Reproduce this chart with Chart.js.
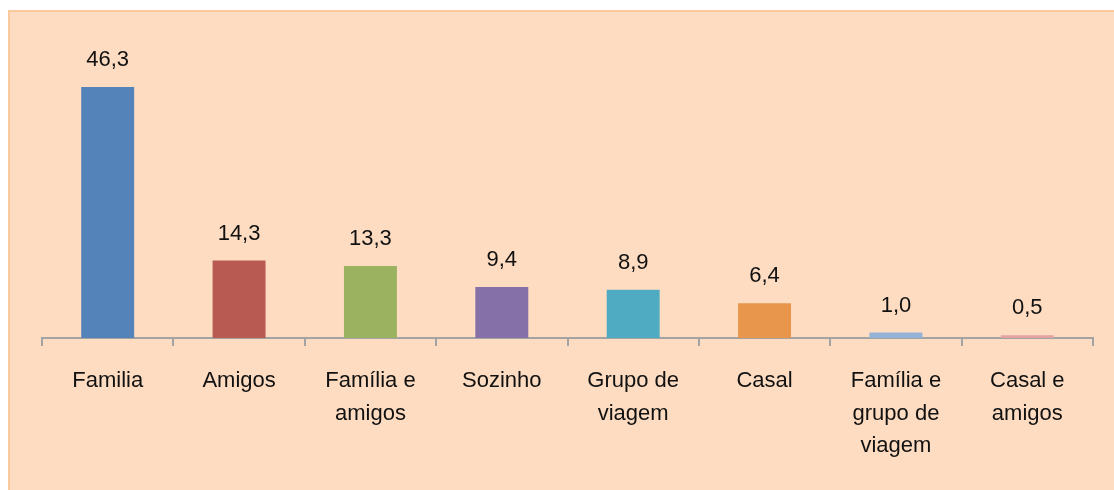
<!DOCTYPE html>
<html>
<head>
<meta charset="utf-8">
<script src="https://cdn.jsdelivr.net/npm/chart.js@4/dist/chart.umd.min.js"></script>
<style>
    html, body { margin: 0; padding: 0; background: #fff; }
    body { width: 1114px; height: 490px; position: relative; overflow: hidden; }
    #frame {
        position: absolute; left: 8px; top: 10px; width: 1110px; height: 484px;
        background: #FDDCC1; border: 2px solid #FAC99E;
    }
    #wrap { position: absolute; left: 0; top: 0; width: 1114px; height: 490px; }
</style>
</head>
<body>
<div id="frame"></div>
<div id="wrap"><canvas id="chart"></canvas></div>
<script>
// Categories (multi-line labels)
const categories = [
    'Familia',
    'Amigos',
    ['Família e', 'amigos'],
    'Sozinho',
    ['Grupo de', 'viagem'],
    'Casal',
    ['Família e', 'grupo de', 'viagem'],
    ['Casal e', 'amigos']
];

// Percentages
const values = [46.3, 14.3, 13.3, 9.4, 8.9, 6.4, 1.0, 0.5];

const barColors = ['#5383B8', '#B95A52', '#9BB260', '#8570A8', '#4FABC1', '#E8964C', '#95B3D7', '#E3A3A2'];

// Value labels above each bar, decimal comma
const valueLabels = {
    id: 'valueLabels',
    afterDatasetsDraw(chart) {
        const ctx = chart.ctx;
        const meta = chart.getDatasetMeta(0);
        ctx.save();
        ctx.font = '22px "Liberation Sans", Arial, sans-serif';
        ctx.fillStyle = '#111';
        ctx.textAlign = 'center';
        ctx.textBaseline = 'middle';
        meta.data.forEach((bar, i) => {
            ctx.fillText(values[i].toFixed(1).replace('.', ','), bar.x, bar.y - 27);
        });
        ctx.restore();
    }
};

new Chart(document.getElementById('chart'), {
    type: 'bar',
    data: {
        labels: categories,
        datasets: [{
            data: values,
            backgroundColor: barColors,
            borderWidth: 0,
            barPercentage: 0.403,
            categoryPercentage: 1
        }]
    },
    options: {
        responsive: true,
        maintainAspectRatio: false,
        animation: false,
        layout: { padding: { left: 42, right: 21, top: 67, bottom: 0 } },
        plugins: {
            legend: { display: false },
            tooltip: { enabled: false }
        },
        scales: {
            x: {
                grid: {
                    display: true,
                    drawOnChartArea: false,
                    drawTicks: true,
                    tickLength: 8,
                    color: '#A3A3A3',
                    lineWidth: 2
                },
                border: { display: true, color: '#A3A3A3', width: 2 },
                ticks: {
                    color: '#111',
                    padding: 19,
                    maxRotation: 0,
                    autoSkip: false,
                    font: { family: '"Liberation Sans", Arial, sans-serif', size: 22, lineHeight: 1.47 }
                },
                afterFit: function(scale) { scale.height = 152; }
            },
            y: {
                display: false,
                min: 0,
                max: 50
            }
        }
    },
    plugins: [valueLabels]
});
</script>
</body>
</html>
